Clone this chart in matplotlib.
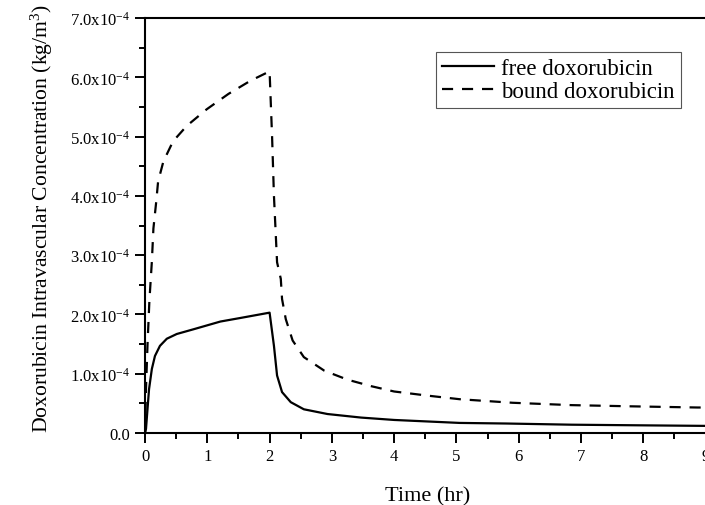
import matplotlib
matplotlib.use("Agg")
import matplotlib.pyplot as plt
from matplotlib.ticker import MultipleLocator, FuncFormatter

plt.rcParams['font.family'] = 'Liberation Serif'
plt.rcParams['mathtext.fontset'] = 'custom'
plt.rcParams['mathtext.rm'] = 'Liberation Serif'
plt.rcParams['mathtext.it'] = 'Liberation Serif:italic'

# values (concentration in units of 1e-4 kg/m^3)
free_t = [0, 0.016, 0.04, 0.065, 0.11, 0.16, 0.24, 0.35, 0.51, 0.78,
          1.21, 1.53, 2.0, 2.07, 2.12, 2.2, 2.34, 2.55, 2.93, 3.47,
          4.0, 5.05, 5.8, 6.85, 7.9, 9.0, 9.1]
free_c = [0, 0.07, 0.40, 0.74, 1.08, 1.30, 1.47, 1.59, 1.67, 1.75,
          1.88, 1.94, 2.03, 1.47, 0.97, 0.69, 0.52, 0.40, 0.32, 0.26,
          0.22, 0.17, 0.16, 0.14, 0.13, 0.12, 0.12]

bound_t = [0, 0.016, 0.04, 0.07, 0.11, 0.135, 0.18, 0.21, 0.295, 0.45,
           0.67, 0.99, 1.34, 1.69, 2.0, 2.04, 2.07, 2.1, 2.12, 2.18,
           2.2, 2.26, 2.37, 2.55, 2.88, 3.25, 3.63, 4.0, 4.54, 5.05,
           5.9, 6.85, 7.8, 8.87, 9.1]
bound_c = [0, 0.75, 1.48, 2.22, 2.89, 3.45, 3.9, 4.24, 4.58, 4.92,
           5.18, 5.46, 5.72, 5.94, 6.1, 5.0, 4.0, 3.33, 2.88, 2.6,
           2.26, 1.92, 1.56, 1.28, 1.05, 0.90, 0.79, 0.70, 0.63, 0.57,
           0.51, 0.47, 0.45, 0.43, 0.43]

fig = plt.figure(figsize=(7.05, 5.06), dpi=100)
# axes runs past the right edge, as in the cropped original
ax = fig.add_axes([145/705, 72/506, 565/705, 415/506])

ax.plot(free_t, [c*1e-4 for c in free_c], color='black', lw=1.6,
        label='free doxorubicin')
ax.plot(bound_t, [c*1e-4 for c in bound_c], color='black', lw=1.6,
        dashes=(5, 4), label='bound doxorubicin')

ax.set_xlim(0, 9.07)
ax.set_ylim(0, 7e-4)
ax.xaxis.set_major_locator(MultipleLocator(1))
ax.xaxis.set_minor_locator(MultipleLocator(0.5))
ax.yaxis.set_major_locator(MultipleLocator(1e-4))
ax.yaxis.set_minor_locator(MultipleLocator(0.5e-4))


def yfmt(v, pos):
    if abs(v) < 1e-12:
        return '0.0'
    return r'%.1fx10$^{\mathregular{-4}}$' % (v*1e4)


ax.yaxis.set_major_formatter(FuncFormatter(yfmt))
ax.tick_params(which='both', direction='out', top=False, right=False,
               labelsize=12)
ax.tick_params(which='major', length=7, width=1.4)
ax.tick_params(which='minor', length=4, width=1.4)
for s in ax.spines.values():
    s.set_linewidth(1.5)
ax.spines['right'].set_visible(False)

ax.set_xlabel('Time (hr)', fontsize=16, labelpad=16)
ax.set_ylabel(r'Doxorubicin Intravascular Concentration (kg/m$^{\mathregular{3}}$)',
              fontsize=15.6)
ax.yaxis.set_label_coords(-0.16, 0.52)

leg = ax.legend(loc='upper left', bbox_to_anchor=(0.515, 0.918),
                borderaxespad=0, fontsize=16.5, fancybox=False,
                handlelength=2.3, handletextpad=0.3, edgecolor='#555555',
                framealpha=1, borderpad=0.25, labelspacing=0.1)
leg.get_frame().set_linewidth(0.8)

fig.savefig('out.png', dpi=100)
